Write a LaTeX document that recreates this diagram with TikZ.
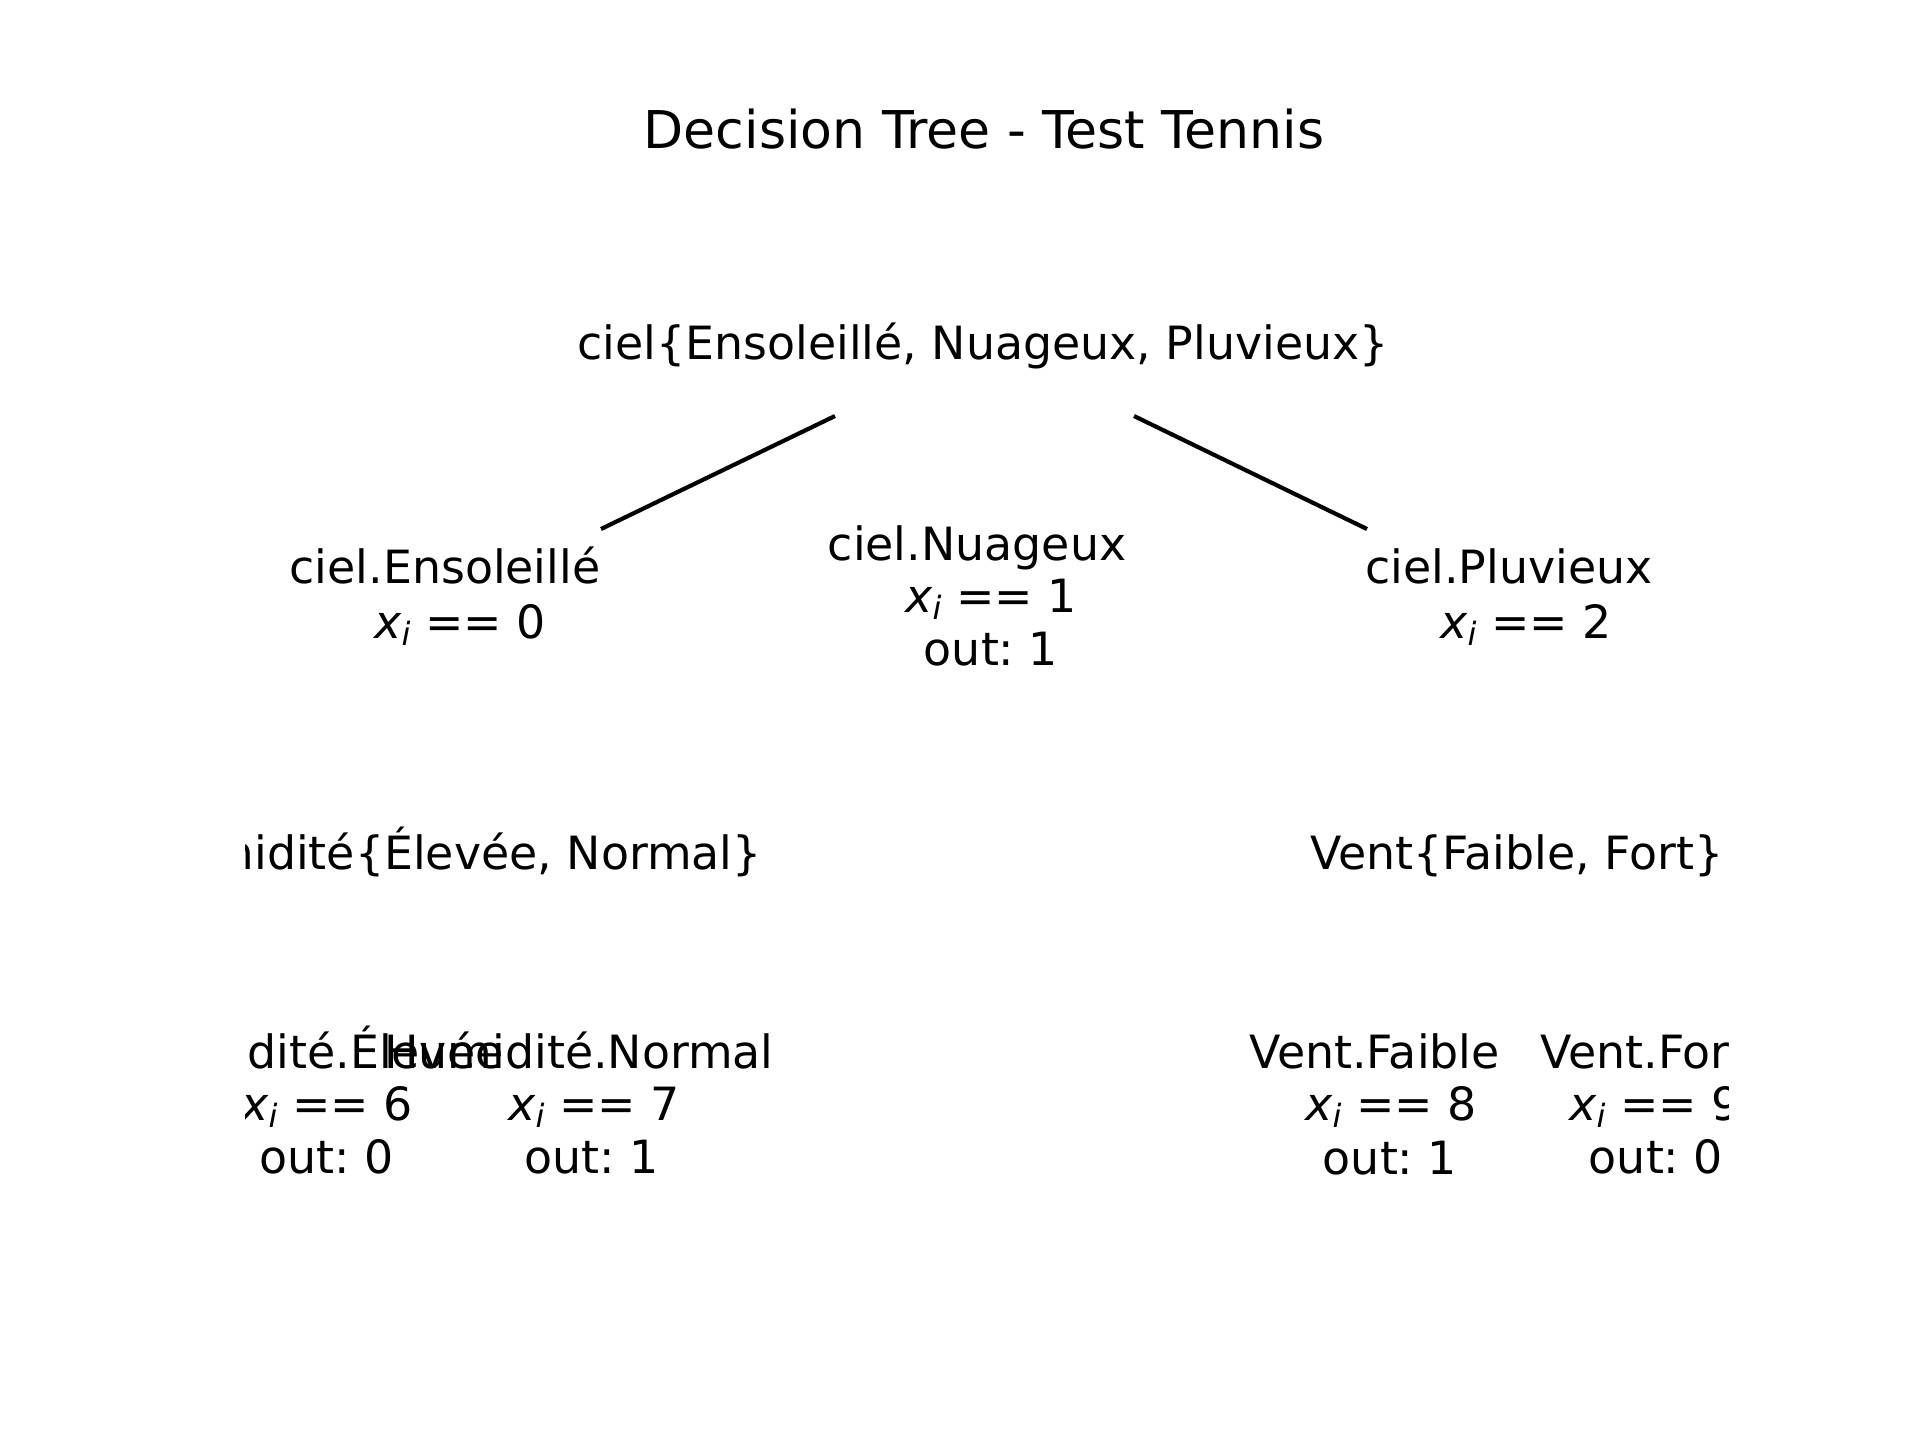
\documentclass[tikz,border=0pt]{standalone}
\usepackage{fontspec}
\setmainfont{DejaVu Sans}
\frenchspacing
\newcommand{\myxsub}[1]{{\itshape x\raisebox{-0.17em}{\fontsize{7.7}{8}\selectfont i}}\ #1}
\tikzset{
  lbl/.style={anchor=base, inner sep=0pt, outer sep=0pt, font=\fontsize{11}{13.2}\selectfont},
  ttl/.style={anchor=base, inner sep=0pt, outer sep=0pt, font=\fontsize{12.5}{15}\selectfont},
  edge/.style={line width=1pt, black}
}
\begin{document}
\frenchspacing
\begin{tikzpicture}[x=0.24pt, y=-0.24pt]
\useasboundingbox (0,0) rectangle (1920,1440);
\node[ttl] (title) at (984,148) {Decision Tree - Test Tennis};
\begin{scope}
\clip (245,172.8) rectangle (1728,1281.6);
% level 0
\node[lbl] (root) at (983,359) {ciel\{Ensoleillé, Nuageux, Pluvieux\}};
% level 1
\node[lbl] (e1) at (445,583) {ciel.Ensoleillé};
\node[lbl] (e2) at (460,638) {\myxsub{== 0}};
\node[lbl] (n1) at (977,560) {ciel.Nuageux};
\node[lbl] (n2) at (991,612) {\myxsub{== 1}};
\node[lbl] (n3) at (991,665) {out: 1};
\node[lbl] (p1) at (1509,583) {ciel.Pluvieux};
\node[lbl] (p2) at (1526,638) {\myxsub{== 2}};
% level 2
\node[lbl] (hum) at (454,869) {Humidité\{Élevée, Normal\}};
\node[lbl] (vent) at (1517,869) {Vent\{Faible, Fort\}};
% level 3
\node[lbl] (he1) at (315,1068) {Humidité.Élevée};
\node[lbl] (he2) at (327,1120) {\myxsub{== 6}};
\node[lbl] (he3) at (327,1173) {out: 0};
\node[lbl] (hn1) at (579,1068) {Humidité.Normal};
\node[lbl] (hn2) at (594,1120) {\myxsub{== 7}};
\node[lbl] (hn3) at (592,1173) {out: 1};
\node[lbl] (vf1) at (1374.5,1068) {Vent.Faible};
\node[lbl] (vf2) at (1391,1120) {\myxsub{== 8}};
\node[lbl] (vf3) at (1390,1174) {out: 1};
\node[lbl] (vo1) at (1644,1068) {Vent.Fort};
\node[lbl] (vo2) at (1655,1120) {\myxsub{== 9}};
\node[lbl] (vo3) at (1656,1173) {out: 0};
% connectors
\coordinate (ls) at (835,416);
\coordinate (le) at (601,529);
\coordinate (rs) at (1134,416);
\coordinate (re) at (1367,529);
\draw[edge] (ls) -- (le);
\draw[edge] (rs) -- (re);
\end{scope}
\end{tikzpicture}
\end{document}
